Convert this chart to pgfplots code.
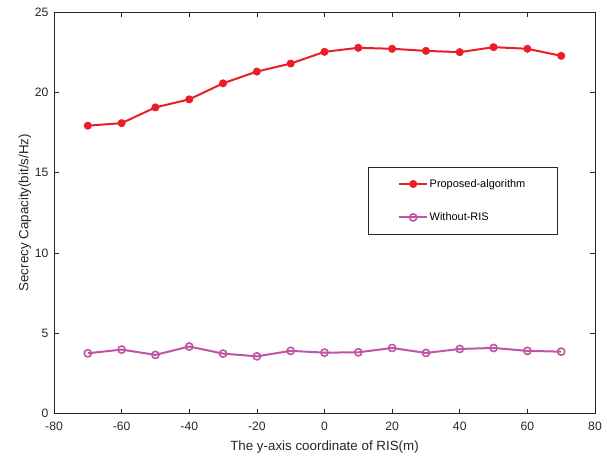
\documentclass[border=0pt]{standalone}
\usepackage{fontspec}
\setmainfont{Liberation Sans}
\usepackage{pgfplots}
\pgfplotsset{compat=1.18}
\definecolor{axgray}{rgb}{0.15,0.15,0.15}
\definecolor{propred}{RGB}{235,30,40}
\definecolor{norispur}{RGB}{190,85,165}

\begin{document}
\begin{tikzpicture}
\begin{axis}[
  scale only axis,
  width=541bp, height=401.5bp,
  xmin=-80, xmax=80, ymin=0, ymax=25,
  xtick={-80,-60,...,80}, ytick={0,5,...,25},
  tick align=inside,
  major tick length=5bp,
  axis line style={axgray, line width=0.6bp},
  tick style={axgray, line width=0.6bp},
  /pgf/number format/assume math mode=true,
  ticklabel style={font=\fontsize{12.2}{14}\selectfont, text=axgray},
  xticklabel style={yshift=-5bp},
  yticklabel style={xshift=-2bp},
  xlabel={The y-axis coordinate of RIS(m)},
  ylabel={Secrecy Capacity(bit/s/Hz)},
  every axis x label/.style={at={(axis description cs:0.5,-0.0832)}, anchor=center,
    font=\fontsize{13.4}{15}\selectfont, text=axgray},
  every axis y label/.style={at={(axis description cs:-0.0536,0.5)}, rotate=90, anchor=center,
    font=\fontsize{13.4}{15}\selectfont, text=axgray},
  legend cell align=left,
  legend style={
    at={(0.93,0.614)}, anchor=north east,
    draw=axgray, line width=0.6bp,
    font=\fontsize{11}{13}\selectfont,
    inner xsep=30bp, inner ysep=10bp,
    row sep=20bp,
    nodes={inner xsep=1.5bp},
  },
  legend image code/.code={%
    \draw[mark repeat=2, mark phase=2]
      plot coordinates {(0bp,0bp) (14bp,0bp) (28bp,0bp)};},
]
\addplot[color=propred, line width=2bp, mark=*, mark size=3.6bp,
  mark options={fill=propred, line width=0.8bp}]
  coordinates {
  (-70,17.92) (-60,18.08) (-50,19.06) (-40,19.56) (-30,20.56)
  (-20,21.29) (-10,21.79) (0,22.52) (10,22.77) (20,22.71)
  (30,22.58) (40,22.50) (50,22.81) (60,22.71) (70,22.27)};
\addlegendentry{Proposed-algorithm}
\addplot[color=norispur, line width=2bp, mark=o, mark size=3.6bp,
  mark options={line width=1.6bp}]
  coordinates {
  (-70,3.75) (-60,3.98) (-50,3.65) (-40,4.17) (-30,3.73)
  (-20,3.56) (-10,3.90) (0,3.79) (10,3.81) (20,4.08)
  (30,3.77) (40,4.02) (50,4.08) (60,3.90) (70,3.85)};
\addlegendentry{Without-RIS}
\end{axis}
\pgfresetboundingbox
\path ([shift={(-54bp,-46bp)}]current axis.south west)
  rectangle ([shift={(12bp,12bp)}]current axis.north east);
\end{tikzpicture}
\end{document}
